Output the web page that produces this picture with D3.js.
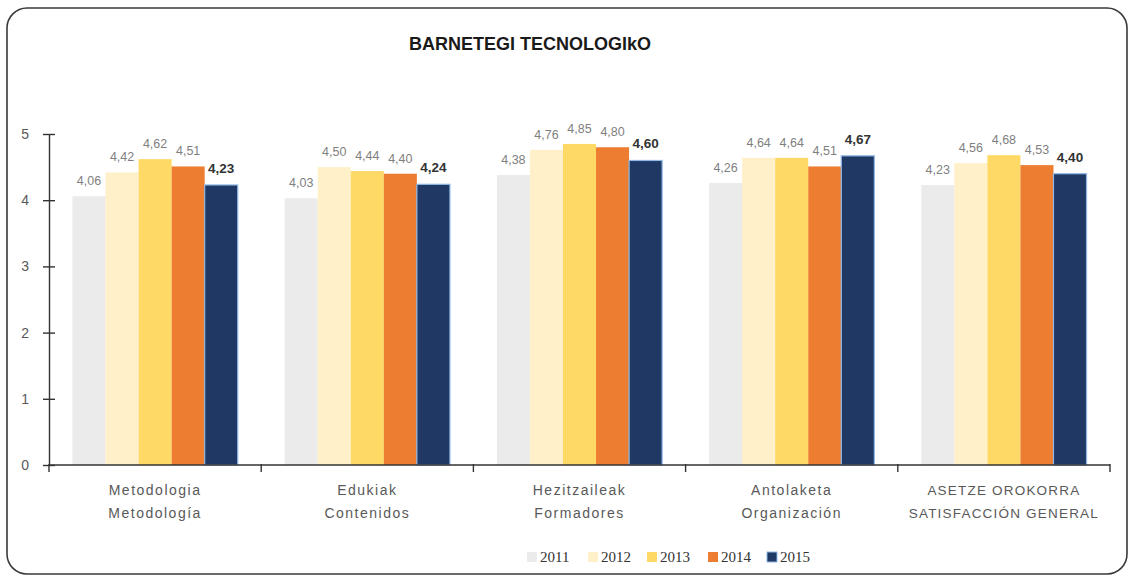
<!DOCTYPE html>
<html><head><meta charset="utf-8">
<script src="https://cdn.jsdelivr.net/npm/d3@7"></script>
<style>body{margin:0;background:#fff;}svg{display:block;}</style>
</head><body>
<svg id="c" width="1134" height="580"></svg>
<script>
const categories = [["Metodologia","Metodología"],["Edukiak","Contenidos"],["Hezitzaileak","Formadores"],["Antolaketa","Organización"],["ASETZE OROKORRA","SATISFACCIÓN GENERAL"]];
const years = ["2011","2012","2013","2014","2015"];
const v2011 = [4.06,4.03,4.38,4.26,4.23];
const v2012 = [4.42,4.50,4.76,4.64,4.56];
const v2013 = [4.62,4.44,4.85,4.64,4.68];
const v2014 = [4.51,4.40,4.80,4.51,4.53];
const v2015 = [4.23,4.24,4.60,4.67,4.40];
const yTicks = [0,1,2,3,4,5];
const colors = ["#ebebeb","#fff0c9","#fed966","#ed7d31","#203864"];
const series = [v2011,v2012,v2013,v2014,v2015];

const svg = d3.select("#c");
svg.append("rect").attr("x",7).attr("y",8).attr("width",1120).attr("height",566).attr("rx",20)
  .attr("fill","#fff").attr("stroke","#3a3a3a").attr("stroke-width",1.6);

const x0 = 49, x1 = 1110, yB = 465, yT = 134;
const x = d3.scaleBand().domain(d3.range(categories.length)).range([x0,x1]).paddingInner(0).paddingOuter(0);
const xs = d3.scaleBand().domain(d3.range(years.length)).range([0,x.bandwidth()]).paddingOuter(0.71).paddingInner(0);
const y = d3.scaleLinear().domain([0,5]).range([yB,yT]);
const font = "'Liberation Sans', Arial, sans-serif";

svg.append("text").attr("x",530).attr("y",50).attr("text-anchor","middle")
  .attr("font-family",font).attr("font-weight","bold").attr("font-size",18).attr("fill","#1a1a1a")
  .text("BARNETEGI TECNOLOGIkO");

// bars
series.forEach((vals,si)=>{
  const g = svg.append("g");
  g.selectAll("rect").data(vals).join("rect")
    .attr("x",(d,i)=>x(i)+xs(si)).attr("y",d=>y(d))
    .attr("width",xs.bandwidth()).attr("height",d=>yB-y(d))
    .attr("fill",colors[si])
    .attr("stroke",si===4?"#8fb8e6":"none").attr("stroke-width",si===4?1.2:0);
  g.selectAll("text").data(vals).join("text")
    .attr("x",(d,i)=>x(i)+xs(si)+xs.bandwidth()/2)
    .attr("y",d=>y(d)-(si===4?12:11))
    .attr("text-anchor","middle").attr("font-family",font)
    .attr("font-size",si===4?13.5:12.5)
    .attr("font-weight",si===4?"bold":"normal")
    .attr("fill",si===4?"#333":"#7f7f7f")
    .text(d=>d.toFixed(2).replace(".",","));
});

// y axis
const yAxis = d3.axisLeft(y).tickValues(yTicks).tickSize(0).tickPadding(20).tickFormat(d3.format("d"));
const ya = svg.append("g").attr("transform",`translate(${x0},0)`).call(yAxis);
ya.select(".domain").attr("stroke","#333").attr("stroke-width",1.4);
ya.selectAll("text").attr("font-family",font).attr("font-size",14).attr("fill","#595959");
ya.selectAll(".tick").append("line").attr("x1",-6).attr("x2",6).attr("stroke","#333").attr("stroke-width",1.4);

// x axis
svg.append("line").attr("x1",x0).attr("x2",x1).attr("y1",yB).attr("y2",yB).attr("stroke","#333").attr("stroke-width",1.4);
const tickPos = d3.range(categories.length+1).map(i=> i<categories.length ? x(i) : x1);
svg.selectAll(".xt").data(tickPos).join("line").attr("class","xt")
  .attr("x1",d=>d).attr("x2",d=>d).attr("y1",yB-1).attr("y2",yB+7).attr("stroke","#333").attr("stroke-width",1.4);
categories.forEach((c,i)=>{
  c.forEach((line,li)=>{
    svg.append("text").attr("x",x(i)+x.bandwidth()/2).attr("y",495+li*23)
      .attr("text-anchor","middle").attr("font-family",font).attr("font-size",i===4?13.5:14)
      .attr("letter-spacing",i===4?1.2:1.5).attr("fill","#595959").text(line);
  });
});

// legend
const legX = [527,588,647,708,767];
years.forEach((yr,i)=>{
  svg.append("rect").attr("x",legX[i]).attr("y",552).attr("width",10).attr("height",10)
    .attr("fill",colors[i]).attr("stroke",i===4?"#8fb8e6":"none");
  svg.append("text").attr("x",legX[i]+13).attr("y",562).attr("font-family","'Liberation Serif', serif")
    .attr("font-size",15).attr("fill","#333").text(yr);
});
</script>
</body></html>
